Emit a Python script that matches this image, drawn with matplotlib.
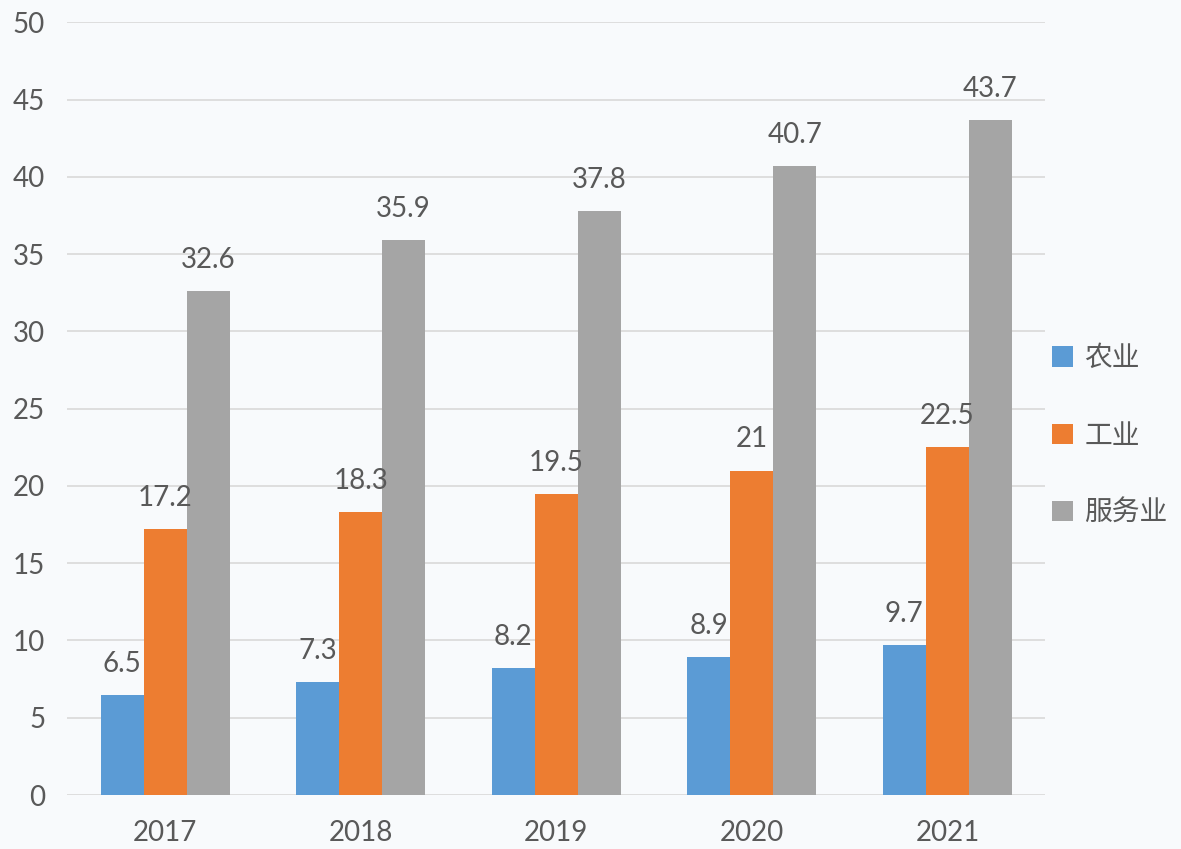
import matplotlib
matplotlib.use("Agg")
import matplotlib.pyplot as plt
import numpy as np

plt.rcParams['font.family'] = ['Lato', 'Noto Sans CJK SC', 'DejaVu Sans']

years = ['2017', '2018', '2019', '2020', '2021']
series_names = ['农业', '工业', '服务业']
agri = [6.5, 7.3, 8.2, 8.9, 9.7]
industry = [17.2, 18.3, 19.5, 21, 22.5]
services = [32.6, 35.9, 37.8, 40.7, 43.7]
colors = ['#5B9BD5', '#ED7D31', '#A5A5A5']
yticks = [0, 5, 10, 15, 20, 25, 30, 35, 40, 45, 50]

fig = plt.figure(figsize=(11.81, 8.49), dpi=100)
bg = '#f8fafc'
fig.patch.set_facecolor(bg)
ax = fig.add_axes([0.057, 0.0636, 0.828, 0.910])
ax.set_facecolor(bg)

x = np.arange(len(years))
w = 0.22
txt_color = '#595959'
for i, (vals, name, c) in enumerate(zip([agri, industry, services], series_names, colors)):
    pos = x + (i - 1) * w
    ax.bar(pos, vals, width=w, color=c, label=name, zorder=3)
    for xp, v in zip(pos, vals):
        ax.annotate(f'{v:g}', (xp, v), xytext=(0, 13), textcoords='offset points',
                    ha='center', va='bottom', fontsize=20, color=txt_color, zorder=4)

ax.set_ylim(0, 50)
ax.set_xlim(-0.5, len(years) - 0.5)
ax.set_yticks(yticks)
ax.set_yticklabels([str(t) for t in yticks])
ax.set_xticks(x)
ax.set_xticklabels(years)
ax.tick_params(axis='both', length=0, labelsize=20, labelcolor=txt_color)
ax.tick_params(axis='x', pad=18)
ax.tick_params(axis='y', pad=16)
ax.yaxis.grid(True, color='#d9d9d9', linewidth=1.2, zorder=0)
ax.set_axisbelow(True)
for s in ax.spines.values():
    s.set_visible(False)

fig.legend(loc='center left', bbox_to_anchor=(0.87, 0.487), frameon=False,
           prop={'family': ['Noto Sans CJK SC'], 'size': 20},
           handlelength=0.75, handleheight=0.75, handletextpad=0.4,
           labelspacing=1.7, labelcolor=txt_color)

fig.savefig('out.png', dpi=100, facecolor=fig.get_facecolor())
